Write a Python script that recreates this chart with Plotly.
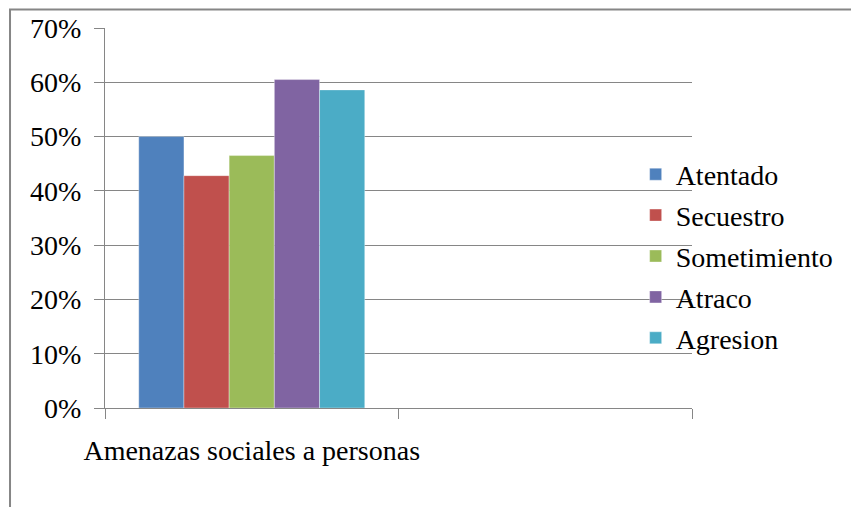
import plotly.graph_objects as go

series = ["Atentado", "Secuestro", "Sometimiento", "Atraco", "Agresion"]
values = [0.500, 0.428, 0.465, 0.605, 0.586]
colors = ["#4F81BD", "#C0504D", "#9BBB59", "#8064A2", "#4BACC6"]
category_label = "Amenazas sociales a personas"
y_ticks = [0, 0.1, 0.2, 0.3, 0.4, 0.5, 0.6, 0.7]

GRAY = "#868686"
FONT = "Liberation Serif, Times New Roman, serif"

fig = go.Figure()
for name, v, c in zip(series, values, colors):
    fig.add_trace(go.Bar(
        x=[0], y=[v], name=name, legendgroup=name,
        marker=dict(color=c, line=dict(color="rgba(255,255,255,0.35)", width=1)),
        hoverinfo="skip",
    ))

fig.update_layout(
    width=851, height=507,
    margin=dict(l=105, r=159, t=28, b=99, autoexpand=False),
    paper_bgcolor="white", plot_bgcolor="white",
    font=dict(family=FONT, size=28, color="black"),
    barmode="group", bargap=0.23, bargroupgap=0,
    showlegend=True,
    legend=dict(
        x=0.904, xanchor="left", y=0.40, yanchor="middle",
        font=dict(family=FONT, size=28, color="black"),
        itemwidth=30, tracegroupgap=1.5, bgcolor="rgba(0,0,0,0)",
    ),
    xaxis=dict(
        range=[-0.5, 1.5], tickvals=[0], ticktext=[category_label],
        ticks="", showgrid=False, zeroline=False,
        showline=True, linecolor=GRAY, linewidth=1,
        ticklabelstandoff=17,
        minor=dict(tickvals=[-0.5, 0.5, 1.5], ticks="outside", ticklen=10,
                   tickcolor=GRAY, tickwidth=1, showgrid=False),
    ),
    yaxis=dict(
        range=[0, 0.7], tickvals=y_ticks, tickformat=".0%",
        ticks="outside", ticklen=10, tickcolor=GRAY, tickwidth=1,
        showgrid=True, gridcolor=GRAY, gridwidth=1,
        zeroline=False, showline=True, linecolor=GRAY, linewidth=1,
        ticklabelstandoff=7,
    ),
    shapes=[dict(type="rect", xref="paper", yref="paper",
                 x0=-0.1618, x1=1.5, y0=-0.5, y1=1.049,
                 line=dict(color=GRAY, width=2), fillcolor="rgba(0,0,0,0)",
                 layer="below")],
)

fig.write_html("out.html", config={"displayModeBar": False},
               post_script="document.body.style.margin='0';")
